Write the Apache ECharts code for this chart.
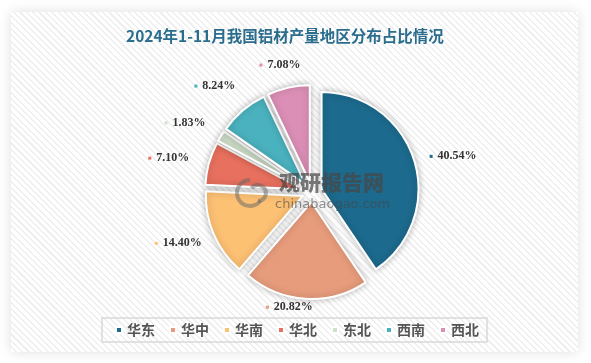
<!DOCTYPE html>
<html>
<head>
<meta charset="utf-8">
<script src="https://cdn.jsdelivr.net/npm/echarts@6/dist/echarts.min.js"></script>
<style>
html,body{margin:0;padding:0;background:#fff;}
#panel{position:absolute;left:11px;top:12px;width:567px;height:340px;
 background:repeating-linear-gradient(45deg,#ffffff 0px,#ffffff 3px,#efefef 3px,#efefef 4.5px);
 box-shadow:0 0 12px rgba(0,0,0,0.13);}
#chart{position:absolute;left:0;top:0;width:591px;height:363px;}
</style>
</head>
<body>
<div id="panel"></div>
<div id="chart"></div>
<script>
const titleText = '2024年1-11月我国铝材产量地区分布占比情况';
const regions = ['华东','华中','华南','华北','东北','西南','西北'];
const shares = [40.54, 20.82, 14.40, 7.10, 1.83, 8.24, 7.08];
const colors = ['#1c6a8d','#e79c7c','#fdc174','#e8705e','#cfe0ca','#4ab2be','#dc8fb6'];

const chart = echarts.init(document.getElementById('chart'), null, {renderer:'canvas'});

const sliceStyle = {borderColor:'#fff', borderWidth:2, shadowBlur:7, shadowColor:'rgba(0,0,0,0.28)'};

const mainData = regions.map((n,i)=>({
  name:n, value:shares[i], selected:true,
  itemStyle:Object.assign({color:colors[i]}, sliceStyle),
  select:{itemStyle:Object.assign({color:colors[i]}, sliceStyle)}
}));

// small label nudges (layout only)
const labelNudge = {'华东':[2,7],'华中':[-14,-30],'华南':[0,-6],'华北':[-3,5],'东北':[-3,7],'西南':[-3,5],'西北':[0,15]};

const labelData = regions.map((n,i)=>({
  name:n, value:shares[i],
  label:{
    offset:labelNudge[n],
    rich:{
      m:{width:3,height:3,backgroundColor:colors[i]},
      s:{width:5},
      v:{fontFamily:'Liberation Serif',fontWeight:'bold',fontSize:12,color:'#333'}
    }
  }
}));

const wmColor = 'rgba(70,70,70,0.72)';

chart.setOption({
  animation:false,
  color:colors,
  title:{
    text:titleText, left:121, top:23,
    textStyle:{fontFamily:'Noto Sans CJK SC',fontWeight:'bold',fontSize:15.5,color:'#2a6d8d'}
  },
  legend:{
    left:102, top:318,
    data:regions.map((n,i)=>({name:n,itemStyle:{color:colors[i]}})),
    icon:'rect', itemWidth:6, itemHeight:6, itemGap:14,
    padding:[5,8,5,13],
    borderColor:'#d9d9d9', borderWidth:1.5,
    textStyle:{fontFamily:'Noto Sans CJK SC',fontWeight:'bold',fontSize:14,color:'#555'},
    selectedMode:false
  },
  series:[
    {
      type:'pie', name:'main', center:[312,192], radius:97,
      startAngle:90, clockwise:true,
      selectedMode:'multiple', selectedOffset:10,
      label:{show:false}, labelLine:{show:false},
      emphasis:{disabled:true},
      data:mainData, z:2
    },
    {
      type:'pie', name:'labels', center:[312,192], radius:[130,155],
      startAngle:90, clockwise:true, silent:true,
      itemStyle:{color:'rgba(0,0,0,0)',borderWidth:0},
      label:{show:true, position:'inside', rotate:0,
        formatter:p=>'{m|}{s|}{v|'+p.value.toFixed(2)+'%}'},
      labelLine:{show:false},
      data:labelData, z:1
    }
  ],
  graphic:[
    {type:'arc', z:100, zlevel:1, silent:true, shape:{cx:250,cy:193,r:13,startAngle:Math.PI*0.2,endAngle:Math.PI*1.5},
      style:{stroke:'rgba(100,100,100,0.5)',lineWidth:4,fill:null}},
    {type:'arc', z:100, zlevel:1, silent:true, shape:{cx:258,cy:193,r:8,startAngle:Math.PI*1.2,endAngle:Math.PI*2.5},
      style:{stroke:'rgba(100,100,100,0.5)',lineWidth:4,fill:null}},
    {type:'text', z:100, zlevel:1, silent:true, left:279, top:172,
      style:{text:'观研报告网',font:'900 21px "Noto Sans CJK SC"',fill:wmColor}},
    {type:'text', z:100, zlevel:1, silent:true, left:275, top:198,
      style:{text:'chinabaogao.com',font:'13px "DejaVu Sans"',fill:'rgba(70,70,70,0.6)'}}
  ]
});
</script>
</body>
</html>
